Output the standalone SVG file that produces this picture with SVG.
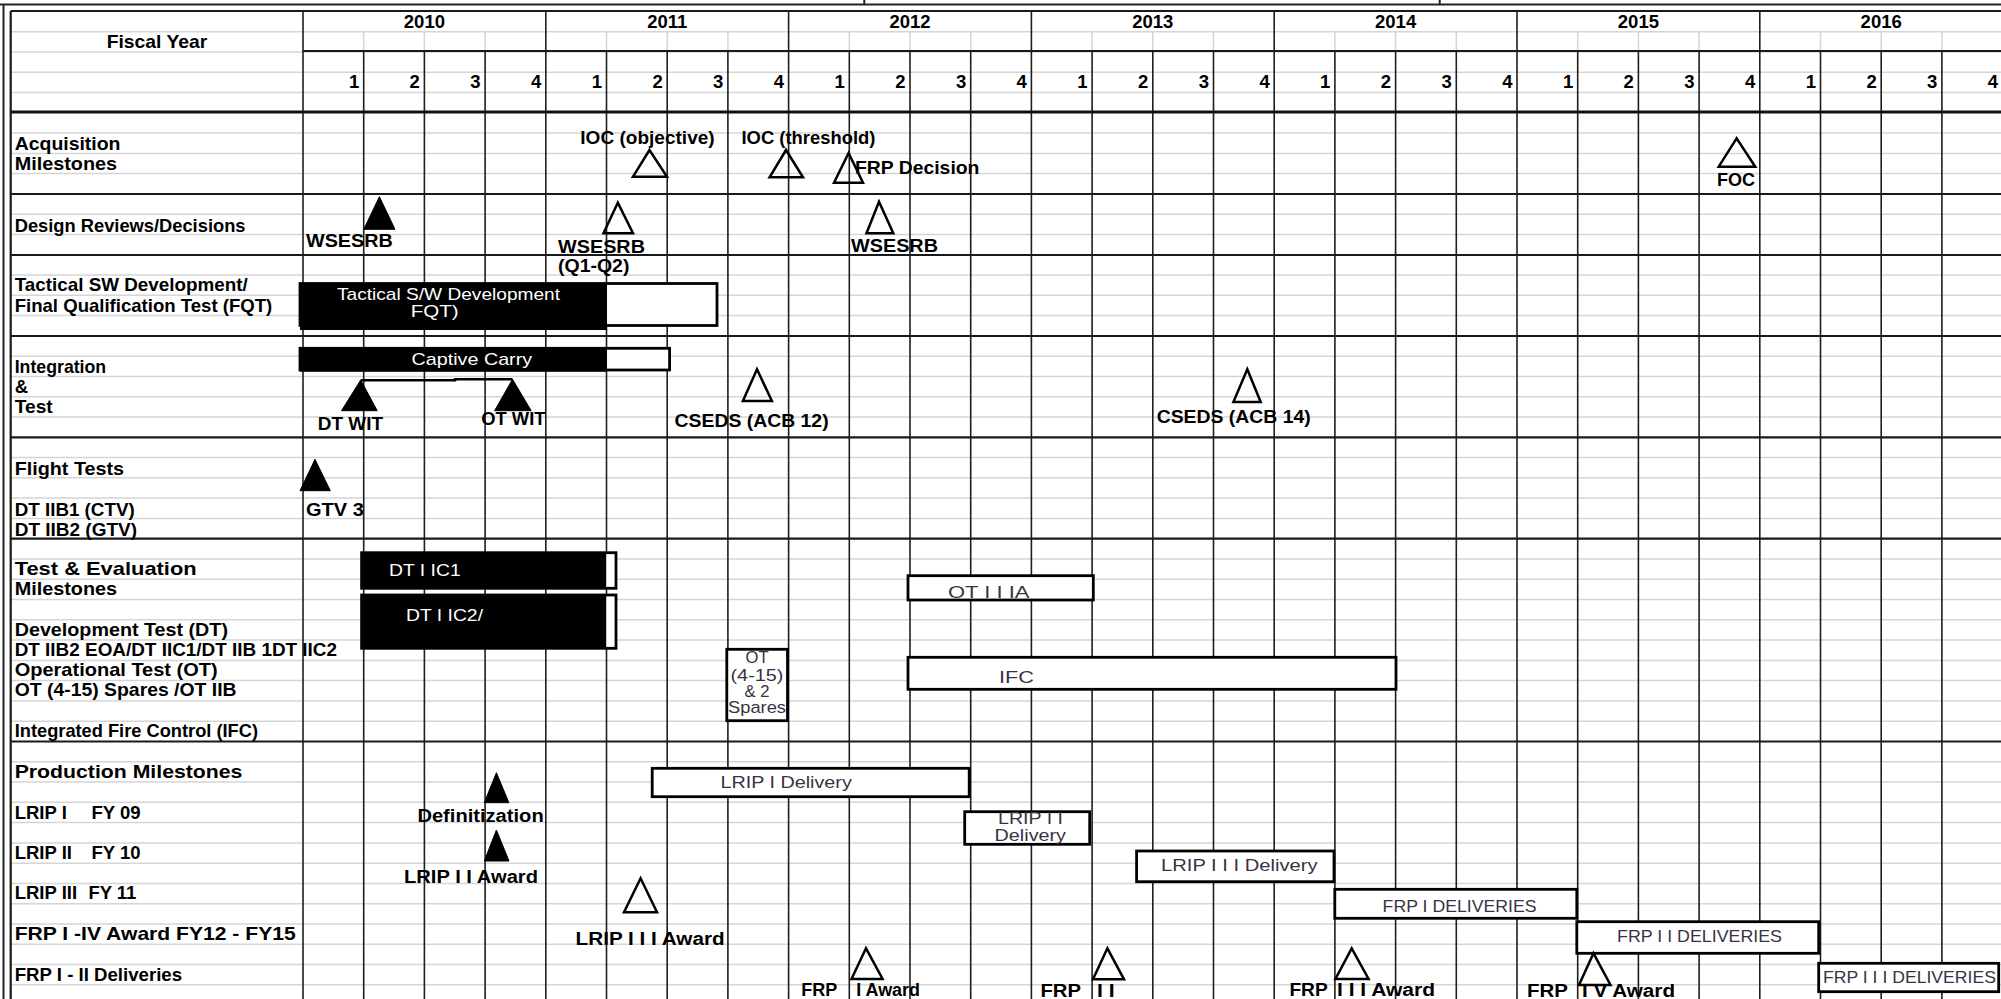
<svg xmlns="http://www.w3.org/2000/svg" width="2001" height="999" viewBox="0 0 2001 999">
<style>
.gg{stroke:#d5d5d5;stroke-width:1.5;fill:none}
.ql{stroke:#1e1e1e;stroke-width:1.6;fill:none}
.sl{stroke:#1a1a1a;stroke-width:2.2;fill:none}
text{font-family:"Liberation Sans",Arial,Helvetica,sans-serif}
.lb{font-weight:bold;font-size:18.5px;fill:#000}
.cl{font-weight:bold;font-size:18px;fill:#000}
.bx{font-size:17px;fill:#3a3244}
.wt{font-size:17px;fill:#fff}
.box{fill:#fff;stroke:#000;stroke-width:2.8}
.bar{fill:#000}
.ot{fill:none;stroke:#000;stroke-width:2.5;stroke-linejoin:miter}
.ft{fill:#000;stroke:#000;stroke-width:1}
.yr{font-weight:bold;font-size:18.5px;text-anchor:middle}
.qn{font-weight:bold;font-size:18.5px;text-anchor:end}
</style>
<rect x="0" y="0" width="2001" height="999" fill="#fff"/>
<g id="grid">
<path class="gg" d="M10.7 31.7H2001M10.7 52H2001M10.7 72.2H2001M10.7 92.5H2001M10.7 133.1H2001M10.7 153.4H2001M10.7 173.6H2001M10.7 214.2H2001M10.7 234.5H2001M10.7 275H2001M10.7 295.3H2001M10.7 315.6H2001M10.7 356.2H2001M10.7 376.4H2001M10.7 396.7H2001M10.7 417H2001M10.7 457.6H2001M10.7 477.8H2001M10.7 498.1H2001M10.7 518.4H2001M10.7 559H2001M10.7 579.2H2001M10.7 599.5H2001M10.7 619.8H2001M10.7 640.1H2001M10.7 660.4H2001M10.7 680.6H2001M10.7 700.9H2001M10.7 721.2H2001M10.7 761.8H2001M10.7 782H2001M10.7 802.3H2001M10.7 822.6H2001M10.7 842.9H2001M10.7 863.2H2001M10.7 883.4H2001M10.7 903.7H2001M10.7 924H2001M10.7 944.3H2001M10.7 964.6H2001M10.7 984.8H2001"/>
<path class="gg" d="M363.7 31.7V51M424.4 31.7V51M485.1 31.7V51M606.5 31.7V51M667.2 31.7V51M727.9 31.7V51M849.3 31.7V51M910 31.7V51M970.7 31.7V51M1092.1 31.7V51M1152.8 31.7V51M1213.5 31.7V51M1334.9 31.7V51M1395.6 31.7V51M1456.3 31.7V51M1577.7 31.7V51M1638.4 31.7V51M1699.1 31.7V51M1820.5 31.7V51M1881.2 31.7V51M1941.9 31.7V51"/>
<path class="ql" d="M363.7 51V999M424.4 51V999M485.1 51V999M606.5 51V999M667.2 51V999M727.9 51V999M849.3 51V999M910 51V999M970.7 51V999M1092.1 51V999M1152.8 51V999M1213.5 51V999M1334.9 51V999M1395.6 51V999M1456.3 51V999M1577.7 51V999M1638.4 51V999M1699.1 51V999M1820.5 51V999M1881.2 51V999M1941.9 51V999"/>
<path class="ql" d="M303 11V999M545.8 11V999M788.6 11V999M1031.4 11V999M1274.2 11V999M1517 11V999M1759.8 11V999"/>
<path class="sl" d="M10.7 11H2001M303 51H2001M10.7 194H2001M10.7 255H2001M10.7 336H2001M10.7 437.3H2001M10.7 538.7H2001M10.7 741.5H2001M10.7 11V999"/>
<path d="M10.7 112H2001" stroke="#111" stroke-width="3.2"/>
<path d="M0 4.5H2001M3.5 4.5V999M864.3 0V4.5M1439.7 0V4.5" stroke="#222" stroke-width="2" fill="none"/>
</g>
<g id="header">
<text class="lb" x="157" y="48.3" text-anchor="middle" textLength="100.6" lengthAdjust="spacingAndGlyphs">Fiscal Year</text>
<text class="yr" x="424.4" y="28.3">2010</text>
<text class="yr" x="667.2" y="28.3">2011</text>
<text class="yr" x="910" y="28.3">2012</text>
<text class="yr" x="1152.8" y="28.3">2013</text>
<text class="yr" x="1395.6" y="28.3">2014</text>
<text class="yr" x="1638.4" y="28.3">2015</text>
<text class="yr" x="1881.2" y="28.3">2016</text>
<text class="qn" x="359.2" y="88">1</text><text class="qn" x="419.9" y="88">2</text><text class="qn" x="480.6" y="88">3</text><text class="qn" x="541.3" y="88">4</text>
<text class="qn" x="602" y="88">1</text><text class="qn" x="662.7" y="88">2</text><text class="qn" x="723.4" y="88">3</text><text class="qn" x="784.1" y="88">4</text>
<text class="qn" x="844.8" y="88">1</text><text class="qn" x="905.5" y="88">2</text><text class="qn" x="966.2" y="88">3</text><text class="qn" x="1026.9" y="88">4</text>
<text class="qn" x="1087.6" y="88">1</text><text class="qn" x="1148.3" y="88">2</text><text class="qn" x="1209" y="88">3</text><text class="qn" x="1269.7" y="88">4</text>
<text class="qn" x="1330.4" y="88">1</text><text class="qn" x="1391.1" y="88">2</text><text class="qn" x="1451.8" y="88">3</text><text class="qn" x="1512.5" y="88">4</text>
<text class="qn" x="1573.2" y="88">1</text><text class="qn" x="1633.9" y="88">2</text><text class="qn" x="1694.6" y="88">3</text><text class="qn" x="1755.3" y="88">4</text>
<text class="qn" x="1816" y="88">1</text><text class="qn" x="1876.7" y="88">2</text><text class="qn" x="1937.4" y="88">3</text><text class="qn" x="1998.1" y="88">4</text>
</g>
<g id="row-labels">
<text class="lb" x="14.7" y="150" textLength="105.8" lengthAdjust="spacingAndGlyphs">Acquisition</text>
<text class="lb" x="14.7" y="170" textLength="102.3" lengthAdjust="spacingAndGlyphs">Milestones</text>
<text class="lb" x="14.7" y="231.7" textLength="230.8" lengthAdjust="spacingAndGlyphs">Design Reviews/Decisions</text>
<text class="lb" x="14.7" y="290.7" textLength="233" lengthAdjust="spacingAndGlyphs">Tactical SW Development/</text>
<text class="lb" x="14.7" y="311.7" textLength="257.6" lengthAdjust="spacingAndGlyphs">Final Qualification Test (FQT)</text>
<text class="lb" x="14.7" y="372.7" textLength="91.5" lengthAdjust="spacingAndGlyphs">Integration</text>
<text class="lb" x="14.7" y="392.7">&amp;</text>
<text class="lb" x="14.7" y="412.7" textLength="38" lengthAdjust="spacingAndGlyphs">Test</text>
<text class="lb" x="14.7" y="475" textLength="109.4" lengthAdjust="spacingAndGlyphs">Flight Tests</text>
<text class="lb" x="14.7" y="515.7" textLength="120" lengthAdjust="spacingAndGlyphs">DT IIB1 (CTV)</text>
<text class="lb" x="14.7" y="535.7" textLength="122.3" lengthAdjust="spacingAndGlyphs">DT IIB2 (GTV)</text>
<text class="lb" x="14.7" y="575" textLength="182" lengthAdjust="spacingAndGlyphs">Test &amp; Evaluation</text>
<text class="lb" x="14.7" y="595" textLength="102.3" lengthAdjust="spacingAndGlyphs">Milestones</text>
<text class="lb" x="14.7" y="636" textLength="213.3" lengthAdjust="spacingAndGlyphs">Development Test (DT)</text>
<text class="lb" x="14.7" y="656" textLength="322.3" lengthAdjust="spacingAndGlyphs">DT IIB2 EOA/DT IIC1/DT IIB 1DT IIC2</text>
<text class="lb" x="14.7" y="676" textLength="203" lengthAdjust="spacingAndGlyphs">Operational Test (OT)</text>
<text class="lb" x="14.7" y="696" textLength="221.9" lengthAdjust="spacingAndGlyphs">OT (4-15) Spares /OT IIB</text>
<text class="lb" x="14.7" y="736.7" textLength="243.3" lengthAdjust="spacingAndGlyphs">Integrated Fire Control (IFC)</text>
<text class="lb" x="14.7" y="778.3" textLength="227.7" lengthAdjust="spacingAndGlyphs">Production Milestones</text>
<text class="lb" y="818.7"><tspan x="14.7">LRIP I</tspan><tspan x="91.5">FY 09</tspan></text>
<text class="lb" y="859"><tspan x="14.7">LRIP II</tspan><tspan x="91.5">FY 10</tspan></text>
<text class="lb" y="899.3"><tspan x="14.7">LRIP III</tspan><tspan x="88.4">FY 11</tspan></text>
<text class="lb" x="14.7" y="940" textLength="281" lengthAdjust="spacingAndGlyphs">FRP I -IV  Award FY12 - FY15</text>
<text class="lb" x="14.7" y="980.7" textLength="167.4" lengthAdjust="spacingAndGlyphs">FRP I - II Deliveries</text>
</g>
<g id="bars">
<g id="tactical-sw">
<rect class="box" x="300" y="283.5" width="417" height="42"/>
<rect class="bar" x="300" y="283" width="307" height="47"/>
<text class="wt" x="337" y="300" textLength="223" lengthAdjust="spacingAndGlyphs">Tactical S/W  Development</text>
<text class="wt" x="410.7" y="316.7" textLength="48" lengthAdjust="spacingAndGlyphs">FQT)</text>
</g>
<g id="captive-carry">
<rect class="box" x="300" y="348.3" width="369.6" height="21.7"/>
<rect class="bar" x="300" y="347.3" width="307" height="24.4"/>
<text class="wt" x="411.6" y="365" textLength="120.5" lengthAdjust="spacingAndGlyphs">Captive Carry</text>
</g>
<g id="dt-iic1">
<rect class="box" x="361.6" y="552.7" width="254.4" height="35.6"/>
<rect class="bar" x="361.6" y="552.7" width="244.6" height="35.6"/>
<text class="wt" x="389" y="576" textLength="71.7" lengthAdjust="spacingAndGlyphs">DT I IC1</text>
</g>
<g id="dt-iic2">
<rect class="box" x="361.6" y="595" width="254.4" height="53.3"/>
<rect class="bar" x="361.6" y="595" width="244.6" height="53.3"/>
<text class="wt" x="406" y="620.7" textLength="77" lengthAdjust="spacingAndGlyphs">DT I IC2/</text>
</g>
<g id="ot-iiia">
<rect class="box" x="908" y="575.7" width="185.3" height="24.3"/>
<text class="bx" x="948" y="597.7" textLength="81.4" lengthAdjust="spacingAndGlyphs">OT I I IA</text>
</g>
<g id="ot-spares">
<rect class="box" x="726.8" y="649.3" width="60.7" height="71.4"/>
<text class="bx" x="757" y="663.3" text-anchor="middle" font-size="14" textLength="23" lengthAdjust="spacingAndGlyphs">OT</text>
<text class="bx" x="757" y="680.7" text-anchor="middle" font-size="14" textLength="53" lengthAdjust="spacingAndGlyphs">(4-15)</text>
<text class="bx" x="757" y="696.7" text-anchor="middle" font-size="14" textLength="25" lengthAdjust="spacingAndGlyphs">&amp; 2</text>
<text class="bx" x="757" y="713.3" text-anchor="middle" font-size="14" textLength="58" lengthAdjust="spacingAndGlyphs">Spares</text>
</g>
<g id="ifc">
<rect class="box" x="908" y="657.3" width="488" height="32"/>
<text class="bx" x="999" y="682.7" textLength="35" lengthAdjust="spacingAndGlyphs">IFC</text>
</g>
<g id="lrip1-delivery">
<rect class="box" x="652.2" y="768.3" width="317" height="28.4"/>
<text class="bx" x="720.5" y="788.3" textLength="131.3" lengthAdjust="spacingAndGlyphs">LRIP I Delivery</text>
</g>
<g id="lrip2-delivery">
<rect class="box" x="964.7" y="811.7" width="125" height="32.6"/>
<text class="bx" x="998" y="824.3" font-size="16" textLength="65" lengthAdjust="spacingAndGlyphs">LRIP I I</text>
<text class="bx" x="994.6" y="840.7" font-size="16" textLength="71.4" lengthAdjust="spacingAndGlyphs">Delivery</text>
</g>
<g id="lrip3-delivery">
<rect class="box" x="1136.6" y="851" width="197.4" height="30.7"/>
<text class="bx" x="1161" y="870.7" textLength="156.5" lengthAdjust="spacingAndGlyphs">LRIP I I I Delivery</text>
</g>
<g id="frp1-deliveries">
<rect class="box" x="1334.8" y="889.3" width="242" height="29"/>
<text class="bx" x="1382.6" y="911.7" font-size="16" textLength="154" lengthAdjust="spacingAndGlyphs">FRP I DELIVERIES</text>
</g>
<g id="frp2-deliveries">
<rect class="box" x="1576.8" y="921.7" width="241.9" height="31.6"/>
<text class="bx" x="1617" y="941.7" font-size="16" textLength="165" lengthAdjust="spacingAndGlyphs">FRP I I DELIVERIES</text>
</g>
<g id="frp3-deliveries">
<rect class="box" x="1818.7" y="963.3" width="180" height="28.4"/>
<text class="bx" x="1823" y="982.7" font-size="16" textLength="173" lengthAdjust="spacingAndGlyphs">FRP I I I DELIVERIES</text>
</g>
</g>
<g id="milestones">
<g id="ioc-objective">
<polygon class="ot" points="649.5,150 633,176.7 667,176.7"/>
<text class="cl" x="580.3" y="144" textLength="134.4" lengthAdjust="spacingAndGlyphs">IOC (objective)</text>
</g>
<g id="ioc-threshold">
<polygon class="ot" points="786,150 769.6,177.3 803,177.3"/>
<text class="cl" x="741.5" y="144" textLength="134" lengthAdjust="spacingAndGlyphs">IOC (threshold)</text>
</g>
<g id="frp-decision">
<polygon class="ot" points="848.6,153 834,182.7 863,182.7"/>
<text class="cl" x="855" y="174" textLength="124.4" lengthAdjust="spacingAndGlyphs">FRP Decision</text>
</g>
<g id="foc">
<polygon class="ot" points="1736.6,138.3 1718.7,166.7 1755.3,166.7"/>
<text class="cl" x="1717" y="186" font-size="15" textLength="38" lengthAdjust="spacingAndGlyphs">FOC</text>
</g>
<g id="wsesrb-1">
<polygon class="ft" points="379.4,196.7 363.8,229.3 395,229.3"/>
<text class="cl" x="306" y="246.7" textLength="86.8" lengthAdjust="spacingAndGlyphs">WSESRB</text>
</g>
<g id="wsesrb-2">
<polygon class="ot" points="617.8,202.7 603.5,233.3 633,233.3"/>
<text class="cl" x="558" y="253.3" textLength="87" lengthAdjust="spacingAndGlyphs">WSESRB</text>
<text class="cl" x="558" y="271.7" textLength="71.4" lengthAdjust="spacingAndGlyphs">(Q1-Q2)</text>
</g>
<g id="wsesrb-3">
<polygon class="ot" points="879,201.7 866.5,233.3 893.3,233.3"/>
<text class="cl" x="851" y="251.7" textLength="87" lengthAdjust="spacingAndGlyphs">WSESRB</text>
</g>
<g id="dt-wit">
<polygon class="ft" points="360.7,380 341.5,410.7 377.2,410.7"/>
<text class="cl" x="317.8" y="430" textLength="65.2" lengthAdjust="spacingAndGlyphs">DT WIT</text>
</g>
<g id="ot-wit">
<polygon class="ft" points="512.5,379.3 494.6,410.7 531.2,410.7"/>
<text class="cl" x="481.2" y="425" textLength="64.3" lengthAdjust="spacingAndGlyphs">OT WIT</text>
</g>
<g id="cseds-12">
<polygon class="ot" points="757,369.3 742.9,401 771.9,401"/>
<text class="cl" x="674.6" y="427.3" textLength="154" lengthAdjust="spacingAndGlyphs">CSEDS (ACB 12)</text>
</g>
<g id="cseds-14">
<polygon class="ot" points="1247.3,369.3 1233.4,402 1260.7,402"/>
<text class="cl" x="1156.7" y="423.3" textLength="154" lengthAdjust="spacingAndGlyphs">CSEDS (ACB 14)</text>
</g>
<g id="gtv3">
<polygon class="ft" points="315,459.3 300,490.7 330.3,490.7"/>
<text class="cl" x="306" y="515.7" textLength="57.8" lengthAdjust="spacingAndGlyphs">GTV 3</text>
</g>
<g id="definitization">
<polygon class="ft" points="496.4,772.7 484.3,802.7 508.9,802.7"/>
<text class="cl" x="417.4" y="821.7" textLength="126.3" lengthAdjust="spacingAndGlyphs">Definitization</text>
</g>
<g id="lrip2-award">
<polygon class="ft" points="496.4,830 484.3,861 509,861"/>
<text class="cl" x="404" y="882.7" textLength="134" lengthAdjust="spacingAndGlyphs">LRIP  I I Award</text>
</g>
<g id="lrip3-award">
<polygon class="ot" points="640.6,878.3 624,912.3 657,912.3"/>
<text class="cl" x="575.6" y="945" textLength="149" lengthAdjust="spacingAndGlyphs">LRIP   I I I Award</text>
</g>
<g id="frp1-award">
<polygon class="ot" points="866,948.3 851.5,979 882.6,979"/>
<text class="cl" y="995.5"><tspan x="801.3" textLength="36" lengthAdjust="spacingAndGlyphs">FRP</tspan><tspan x="856.3" textLength="63.7" lengthAdjust="spacingAndGlyphs">I Award</tspan></text>
</g>
<g id="frp2-award">
<polygon class="ot" points="1107.4,948.3 1093,979.3 1124,979.3"/>
<text class="cl" y="997"><tspan x="1040.5" textLength="40.5" lengthAdjust="spacingAndGlyphs">FRP</tspan><tspan x="1097" textLength="17.6" lengthAdjust="spacingAndGlyphs">I I</tspan></text>
</g>
<g id="frp3-award">
<polygon class="ot" points="1351.7,948.3 1335.4,979 1368.6,979"/>
<text class="cl" y="995.5"><tspan x="1289.4" textLength="38.3" lengthAdjust="spacingAndGlyphs">FRP</tspan><tspan x="1337" textLength="98" lengthAdjust="spacingAndGlyphs">I I I Award</tspan></text>
</g>
<g id="frp4-award">
<polygon class="ot" points="1593.5,953.3 1579,985 1610.5,985"/>
<text class="cl" y="997"><tspan x="1527" textLength="40.8" lengthAdjust="spacingAndGlyphs">FRP</tspan><tspan x="1582" textLength="93" lengthAdjust="spacingAndGlyphs">I V Award</tspan></text>
</g>
</g>
<g id="connectors">
<polyline points="360.7,380.3 455,380.3 455,379.3 512.5,379.3" fill="none" stroke="#000" stroke-width="2.5"/>
</g>
</svg>
